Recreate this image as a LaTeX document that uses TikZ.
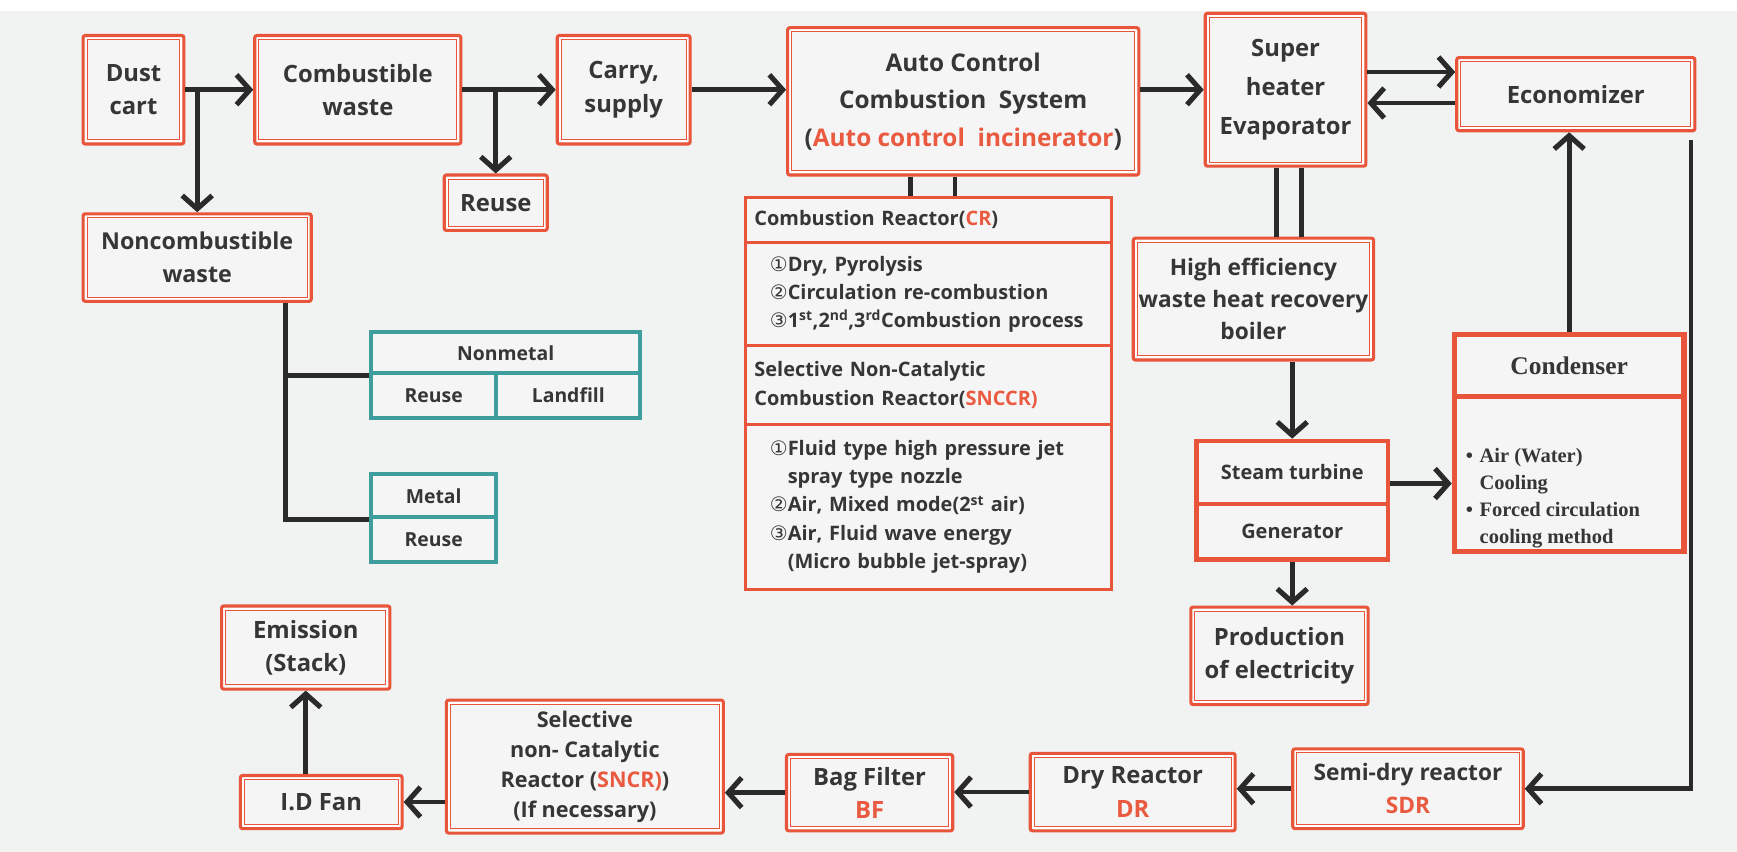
\documentclass[tikz,border=0pt]{standalone}
\usepackage{fontspec}
\setmainfont{Open Sans}
\newfontfamily\symfont{DejaVu Sans}
\newfontfamily\serifb{Liberation Serif}
\usetikzlibrary{arrows.meta,calc}
\definecolor{ored}{HTML}{E8553B}
\definecolor{txt}{HTML}{363636}
\definecolor{rtxt}{HTML}{EA5A40}
\definecolor{teal2}{HTML}{3E9E9E}
\definecolor{bg}{HTML}{F1F2F2}
\definecolor{boxbg}{HTML}{F5F5F5}
\definecolor{ln}{HTML}{2A2A2A}
\newcommand{\rd}[1]{\textcolor{rtxt}{#1}}
\newcommand{\cn}[1]{{\symfont\mdseries #1}}
\newcommand{\ind}{\hspace*{14pt}}
\tikzset{
 sz/.style 2 args={minimum width=#1pt, minimum height=#2pt},
 obox/.style={draw=ored, line width=2.8pt, rounded corners=2pt, fill=boxbg, align=center,
   text=txt, inner sep=0pt, font=\fontsize{21.5}{30}\selectfont\bfseries,
   path picture={
     \draw[white, line width=1.8pt, sharp corners]
       ([shift={(2.3pt,2.3pt)}]path picture bounding box.south west) rectangle
       ([shift={(-2.3pt,-2.3pt)}]path picture bounding box.north east);
     \draw[ored, line width=0.9pt, sharp corners]
       ([shift={(3.7pt,3.7pt)}]path picture bounding box.south west) rectangle
       ([shift={(-3.7pt,-3.7pt)}]path picture bounding box.north east);}},
 cell/.style={draw=ored, line width=2.5pt, fill=boxbg, inner sep=0pt, text=txt,
   font=\fontsize{18}{25.5}\selectfont\bfseries},
 tcell/.style={draw=teal2, line width=3.5pt, fill=boxbg, inner sep=0pt, text=txt,
   font=\fontsize{17.5}{22}\selectfont\bfseries},
 arr/.style={draw=ln, line width=4.2pt, -{Straight Barb[length=12pt,width=27pt,line width=4.6pt]}},
 ln4/.style={draw=ln, line width=4.2pt},
}
\begin{document}
\begin{tikzpicture}[x=1pt,y=-1pt]
\useasboundingbox (0,0) rectangle (1568,769);
\fill[bg] (0,0) rectangle (1568,769);
\fill[white] (0,0) rectangle (1568,10);

% top row
\node[obox, sz={91}{98}] (dust) at (120.5,81) {Dust\\cart};
\node[obox, sz={186}{98}] (comb) at (323,81) {Combustible\\waste};
\node[obox, sz={120}{98}] (carry) at (563,81) {Carry,\\supply};
\node[obox, sz={317}{133}, font=\fontsize{22}{34}\selectfont\bfseries] (auto) at (869.5,91.5)
  {Auto Control\\Combustion~~System\\(\rd{Auto control~~incinerator})};
\node[obox, sz={145}{138}, font=\fontsize{21.5}{35}\selectfont\bfseries] (super) at (1160.5,81) {Super\\heater\\Evaporator};
\node[obox, sz={215}{66}] (econ) at (1422.5,85) {Economizer};
\node[obox, sz={93}{50}] (reuse) at (447.5,183) {Reuse};
\node[obox, sz={206}{79}, font=\fontsize{21}{30}\selectfont\bfseries] (noncomb) at (178,232.5) {Noncombustible\\waste};

% teal boxes
\node[tcell, sz={243}{37}] (nm) at (456.5,318.5) {Nonmetal};
\node[tcell, sz={113}{40}] (nmr) at (391.5,357) {Reuse};
\node[tcell, sz={130}{40}] (nml) at (513,357) {Landfill};
\node[tcell, sz={113}{39}] (mt) at (391.5,447.5) {Metal};
\node[tcell, sz={113}{40}] (mr) at (391.5,487) {Reuse};

% CR box
\node[cell, sz={330}{41}, text width=314pt, align=left] (cr1) at (838,198.5) {Combustion Reactor(\rd{CR})};
\node[cell, sz={330}{93}, text width=314pt, align=left] (cr2) at (838,265.5)
  {\ind\cn{①}Dry, Pyrolysis\\
   \ind\cn{②}Circulation re-combustion\\
   \ind\cn{③}1\textsuperscript{st},2\textsuperscript{nd},3\textsuperscript{rd}Combustion process};
\node[cell, sz={330}{71}, text width=314pt, align=left] (cr3) at (838,347.5)
  {Selective Non-Catalytic\\Combustion Reactor(\rd{SNCCR)}};
\node[cell, sz={330}{149}, text width=314pt, align=left] (cr4) at (838,457.5)
  {\ind\cn{①}Fluid type high pressure jet\\
   \ind\phantom{\cn{①}}spray type nozzle\\
   \ind\cn{②}Air, Mixed mode(2\textsuperscript{st} air)\\
   \ind\cn{③}Air, Fluid wave energy\\
   \ind\phantom{\cn{①}}(Micro bubble jet-spray)};

% boiler side
\node[obox, sz={217}{110}, font=\fontsize{20.5}{29}\selectfont\bfseries] (boiler) at (1131.5,270) {High efficiency\\waste heat recovery\\boiler};
\node[cell, line width=4pt, sz={173}{57}] (st) at (1166.5,426.5) {Steam turbine};
\node[cell, line width=4pt, sz={173}{50}] (gen) at (1166.5,480) {Generator};
\node[cell, line width=5pt, sz={207}{56}, font=\serifb\bfseries\fontsize{23}{26}\selectfont] (ch) at (1416.5,330) {Condenser};
\node[cell, line width=5pt, sz={207}{140}] (cb) at (1416.5,428) {};
\node[text=txt, font=\serifb\bfseries\fontsize{18.5}{24.5}\selectfont, anchor=west, inner sep=0pt] (cbt) at (1323,449)
  {\begin{tabular}{@{}l@{\hspace{6pt}}l@{}}\textbullet&Air (Water)\\&Cooling\\\textbullet&Forced circulation\\&cooling method\end{tabular}};
\node[obox, sz={160}{88}] (prod) at (1155,592) {Production\\of electricity};

% bottom row
\node[obox, sz={152}{75}] (emis) at (276,584.5) {Emission\\(Stack)};
\node[obox, sz={146}{48}] (idfan) at (290,724) {I.D Fan};
\node[obox, sz={250}{120}, font=\fontsize{19.5}{27}\selectfont\bfseries] (sncr) at (528,692)
  {Selective\\non- Catalytic\\Reactor (\rd{SNCR)})\\(If necessary)};
\node[obox, sz={150}{69}] (bag) at (785,715.5) {Bag Filter\\\rd{BF}};
\node[obox, sz={185}{70}] (dry) at (1022.5,715) {Dry Reactor\\\rd{DR}};
\node[obox, sz={208}{72}, font=\fontsize{20.5}{30}\selectfont\bfseries] (semi) at (1271,712) {Semi-dry reactor\\\rd{SDR}};

% connectors top
\draw[arr] (dust.east) -- (comb.west);
\draw[arr] (dust.east -| noncomb.north) -- (noncomb.north);
\draw[arr] (comb.east) -- (carry.west);
\draw[arr] (comb.east -| reuse.north) -- (reuse.north);
\draw[arr] (carry.east) -- (carry.east -| auto.west);
\draw[arr] (auto.east |- super.west) -- (super.west);
\coordinate (eu) at ([yshift=20pt]econ.west);
\coordinate (ed) at ([yshift=-8pt]econ.west);
\draw[arr] (eu -| super.east) -- (eu);
\draw[arr] (ed) -- (ed -| super.east);

% double lines
\coordinate (a1) at ([xshift=-47.5pt]auto.south);
\coordinate (a2) at ([xshift=-7.5pt]auto.south);
\draw[ln4] (a1) -- (a1 |- cr1.north);
\draw[ln4] (a2) -- (a2 |- cr1.north);
\coordinate (s1) at ([xshift=-8.5pt]super.south);
\coordinate (s2) at ([xshift=14.5pt]super.south);
\draw[ln4] (s1) -- (s1 |- boiler.north);
\draw[ln4] (s2) -- (s2 |- boiler.north);

% noncombustible branches
\coordinate (nb) at ([xshift=80pt]noncomb.south);
\draw[ln4] (nb) |- (mt.south west);
\draw[ln4] (nb |- nm.south west) -- (nm.south west);

% right side
\draw[arr] (boiler.south -| st.north) -- (st.north);
\coordinate (sa) at ([yshift=-10pt]st.east);
\draw[arr] (sa) -- (sa -| cb.west);
\draw[arr] (gen.south) -- (gen.south |- prod.north);
\draw[arr] (ch.north) -- (ch.north |- econ.south);
\coordinate (rt) at ([xshift=-5pt,yshift=-7pt]econ.south east);
\draw[arr] (rt) |- (semi.east);

% bottom connectors
\draw[arr] (semi.west) -- (semi.west -| dry.east);
\draw[arr] (dry.west) -- (dry.west -| bag.east);
\draw[arr] (bag.west) -- (bag.west -| sncr.east);
\draw[arr] (idfan.east -| sncr.west) -- (idfan.east);
\draw[arr] (idfan.north -| emis.south) -- (emis.south);
\end{tikzpicture}
\end{document}
